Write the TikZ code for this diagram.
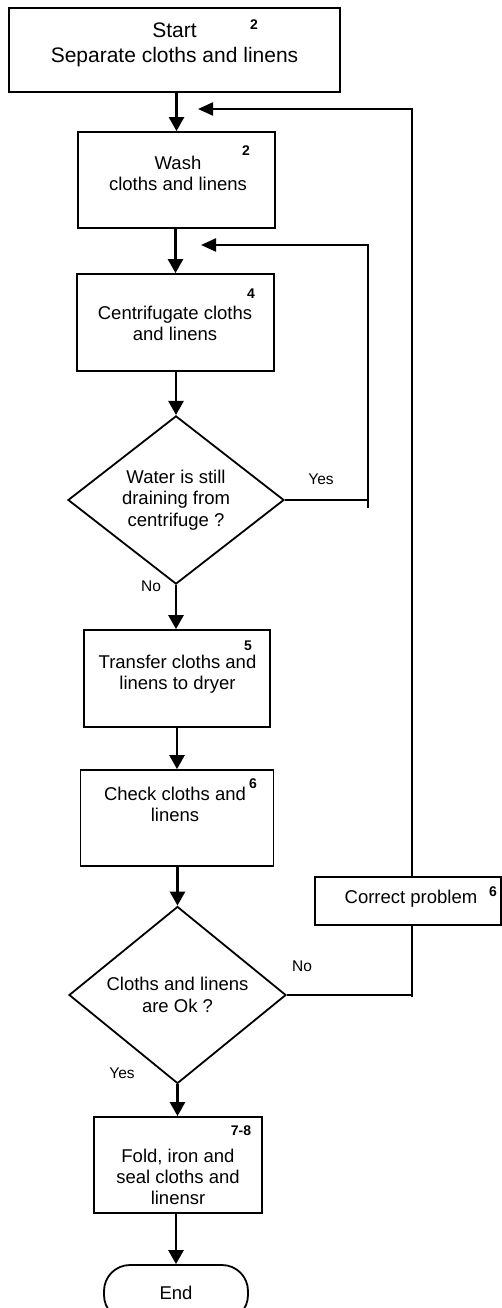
\documentclass[tikz,border=0pt]{standalone}
\usepackage{fontspec}
\setmainfont{Liberation Sans}
\usetikzlibrary{shapes.geometric,arrows.meta}
\begin{document}
\begin{tikzpicture}[x=1pt,y=-1pt,
    box/.style={draw,line width=1.8pt,inner sep=0pt},
    decision/.style={draw,diamond,line width=1.8pt,inner sep=0pt,align=center,font=\fontsize{18.5}{21.5}\selectfont},
    txt/.style={inner sep=0pt,align=center,font=\fontsize{18.5}{21}\selectfont},
    num/.style={inner sep=0pt,font=\fontsize{14}{14}\bfseries\selectfont},
    lbl/.style={inner sep=0pt,font=\fontsize{15.5}{17}\selectfont},
    flow/.style={line width=2.6pt,-{Triangle[length=14pt,width=15pt]}},
    back/.style={line width=2.2pt},
    backflow/.style={line width=2.2pt,-{Triangle[length=15pt,width=13pt]}}]
  \useasboundingbox (0,0) rectangle (502,1308);
  % main column
  \node[box,minimum width=331,minimum height=84](start) at (174.5,50) {};
  \node[txt,font=\fontsize{21}{25}\selectfont](starttxt) at (174.5,44.5) {Start\\Separate cloths and linens};
  \node[num](n1) at (254,25) {2};
  \node[box,minimum width=197,minimum height=96](wash) at (176.5,180) {};
  \node[txt](washtxt) at (178,173) {Wash\\cloths and linens};
  \node[num](n2) at (246,151) {2};
  \node[box,minimum width=197,minimum height=97](centri) at (175.5,322.5) {};
  \node[txt](centritxt) at (175,323) {Centrifugate cloths\\and linens};
  \node[num](n3) at (251,294) {4};
  \node[decision,minimum width=216,minimum height=167](drain) at (176,500) {Water is still\\draining from\\centrifuge ?};
  \node[box,minimum width=186,minimum height=97](transfer) at (177,678.5) {};
  \node[txt](transfertxt) at (177.5,674.5) {Transfer cloths and\\linens to dryer};
  \node[num](n4) at (248,646) {5};
  \node[box,minimum width=193,minimum height=96](check) at (177,818) {};
  \node[txt](checktxt) at (175,804) {Check cloths and\\linens};
  \node[num](n5) at (253,784) {6};
  \node[decision,minimum width=217,minimum height=167](okq) at (177.5,995) {Cloths and linens\\are Ok ?};
  \node[box,minimum width=168,minimum height=96](fold) at (178,1165) {};
  \node[txt](foldtxt) at (178,1177) {Fold, iron and\\seal cloths and\\linensr};
  \node[num](n6) at (241,1131) {7-8};
  \node[box,rounded corners=26pt,minimum width=144,minimum height=56,font=\fontsize{18.5}{21}\selectfont](end) at (176,1293) {End};
  % side box
  \node[box,minimum width=186,minimum height=48](correct) at (408,901) {};
  \node[txt](correcttxt) at (411,899) {Correct problem};
  \node[num](n7) at (493,892) {6};
  % labels
  \node[lbl](yes1) at (321,479) {Yes};
  \node[lbl](no1) at (151,586) {No};
  \node[lbl](no2) at (302,966) {No};
  \node[lbl](yes2) at (122,1073) {Yes};
  % flow
  \draw[flow] (start.south -| wash.north) -- (wash.north);
  \draw[flow] (wash.south -| centri.north) -- (centri.north);
  \draw[flow] (centri.south -| drain.north) -- (drain.north);
  \draw[flow] (drain.south) -- (drain.south |- transfer.north);
  \draw[flow] (transfer.south -| check.north) -- (check.north);
  \draw[flow] (check.south -| okq.north) -- (okq.north);
  \draw[flow] (okq.south) -- (okq.south |- fold.north);
  \draw[flow] (fold.south -| end.north) -- (end.north);
  % loops back
  \coordinate (loopin) at (201,245);
  \coordinate (yesturn) at (368,508);
  \draw[back] (drain.east) -- (drain.east -| yesturn);
  \draw[backflow] (yesturn) |- (loopin);
  \coordinate (loopout) at (198,109);
  \coordinate (noturn) at (412,997);
  \draw[back] (okq.east) -- (okq.east -| noturn);
  \draw[back] (noturn) -- (correct.south -| noturn);
  \draw[backflow] (correct.north -| noturn) |- (loopout);
\end{tikzpicture}
\end{document}
